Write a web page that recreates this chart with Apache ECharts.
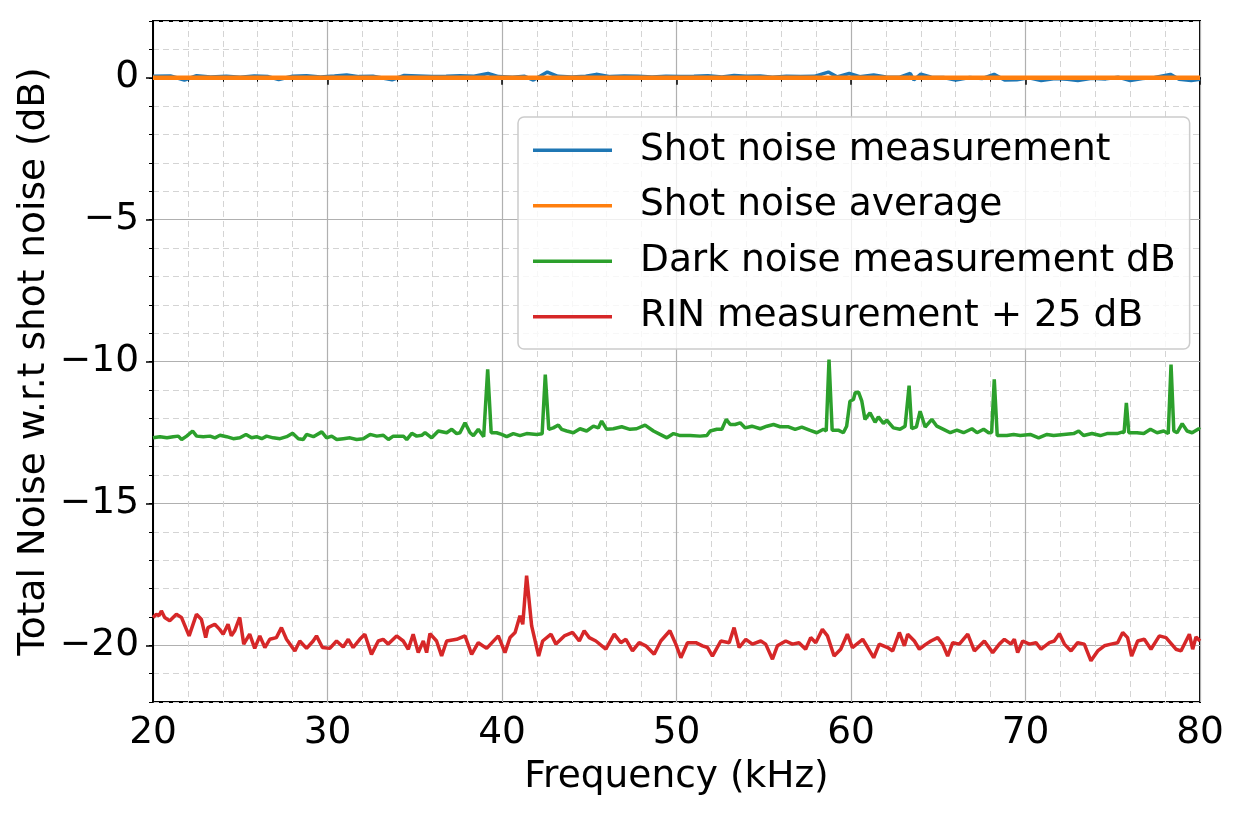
<!DOCTYPE html>
<html>
<head>
<meta charset="utf-8">
<title>Total noise vs frequency</title>
<script src="https://cdn.jsdelivr.net/npm/echarts@6/dist/echarts.min.js"></script>
<style>
  html, body { margin: 0; padding: 0; background: #fff; }
  #chart { width: 1239px; height: 813px; }
</style>
</head>
<body>
<div id="chart"></div>
<script>
// x ticks (kHz) and y ticks (dB)
const xTicks = [20, 30, 40, 50, 60, 70, 80];
const yTicks = [-20, -15, -10, -5, 0];

// Shot noise measurement
const shotFreq = [20, 21, 21.8, 22.5, 23.3, 24.2, 25, 25.8, 26.6, 27.2, 28, 28.8, 29.6, 30.4, 31.1, 31.8, 32.6, 33.7, 34.4, 35.2,
  36, 36.8, 37.6, 38.4, 39.2, 39.8, 40.6, 41.3, 41.8, 42.6, 43.2, 44, 44.8, 45.4, 46.2, 47, 47.8, 48.6, 49.4, 50.2,
  51, 51.8, 52.6, 53.3, 54, 54.8, 55.5, 56.3, 57.1, 57.9, 58.7, 59.2, 59.9, 60.5, 61.3, 62, 62.8, 63.4, 63.6, 64,
  64.6, 65.3, 66, 66.8, 67.5, 68.2, 68.8, 69.5, 70.2, 70.9, 71.7, 72.4, 73, 73.8, 74.6, 75.3, 76, 76.7, 77.4, 78.3,
  78.8, 79.5, 80];
const shotDb = [0.05, 0.06, -0.08, 0.07, 0.03, 0.05, 0.02, 0.06, 0.04, -0.06, 0.05, 0.07, 0.03, 0.06, 0.1, 0.04, 0.05, -0.07, 0.08, 0.06,
  0.04, 0.05, 0.07, 0.05, 0.15, 0.04, 0.02, 0.05, -0.08, 0.2, 0.05, 0.03, 0.05, 0.12, 0.04, 0.06, 0.05, 0.03, 0.05, 0.04,
  0.05, 0.07, 0.03, 0.08, 0.05, 0.06, 0.02, 0.05, 0.04, 0.05, 0.2, 0.03, 0.15, 0.04, 0.1, 0.03, 0.02, 0.15, -0.08, 0.13,
  0.02, 0.01, -0.08, 0.01, -0.03, 0.12, -0.08, -0.07, 0, -0.1, -0.03, -0.05, -0.1, -0.02, -0.04, 0.02, -0.1, -0.03, 0.01, 0.12,
  -0.05, -0.1, -0.05];

// Shot noise average
const avgFreq = [20, 80];
const avgDb = [0, 0];

// Dark noise measurement
const darkFreq = [20, 20.4, 20.8, 21.16, 21.45, 21.64, 21.93, 22.27, 22.5, 22.88, 23.27, 23.55, 23.84, 24.22, 24.6, 24.98,
  25.33, 25.65, 25.94, 26.23, 26.51, 26.89, 27.28, 27.66, 28, 28.33, 28.61, 28.8, 29.19, 29.67, 29.95, 30.24, 30.53,
  30.91, 31.29, 31.67, 32.05, 32.44, 32.82, 33.2, 33.49, 33.77, 34.35, 34.54, 34.83, 35.11, 35.4, 35.59, 35.97, 36.35,
  36.83, 37.12, 37.4, 37.59, 37.88, 38.17, 38.36, 38.64, 38.95, 39.18, 39.38, 39.69, 39.98, 40.27, 40.65, 41.03, 41.41,
  41.99, 42.3, 42.48, 42.68, 42.94, 43.23, 43.42, 43.71, 44.09, 44.47, 44.85, 45.24, 45.52, 45.71, 46, 46.38, 46.86,
  47.33, 47.71, 48.2, 48.68, 49.06, 49.45, 49.83, 50.21, 50.78, 51.35, 51.74, 51.93, 52.31, 52.6, 52.85, 53.08, 53.36,
  53.65, 53.94, 54.32, 54.8, 55.18, 55.56, 55.94, 56.42, 56.8, 57.18, 57.66, 58.04, 58.42, 58.58, 58.74, 58.92, 59.27,
  59.56, 59.75, 59.94, 60.14, 60.24, 60.43, 60.62, 60.8, 61.09, 61.38, 61.57, 61.86, 62.05, 62.43, 62.81, 63.1, 63.2,
  63.33, 63.48, 63.75, 63.96, 64.25, 64.63, 64.92, 65.3, 65.69, 66.07, 66.45, 66.93, 67.22, 67.6, 67.89, 68.06, 68.21,
  68.38, 68.93, 69.32, 69.7, 70.27, 70.75, 71.23, 71.61, 72.19, 72.76, 73.05, 73.33, 73.81, 74.29, 74.67, 75.25, 75.53,
  75.65, 75.78, 75.92, 76.39, 76.78, 77.16, 77.54, 77.92, 78.18, 78.34, 78.5, 78.69, 78.98, 79.26, 79.55, 79.93, 80];
const darkDb = [-12.69, -12.65, -12.69, -12.65, -12.63, -12.75, -12.63, -12.45, -12.63, -12.65, -12.63, -12.69, -12.6, -12.65, -12.72, -12.69,
  -12.57, -12.69, -12.65, -12.72, -12.63, -12.69, -12.72, -12.65, -12.53, -12.72, -12.75, -12.57, -12.65, -12.48, -12.69, -12.63, -12.75,
  -12.72, -12.69, -12.75, -12.72, -12.57, -12.63, -12.6, -12.75, -12.63, -12.63, -12.75, -12.53, -12.63, -12.6, -12.51, -12.69, -12.45,
  -12.51, -12.39, -12.54, -12.51, -12.16, -12.51, -12.61, -12.39, -12.65, -10.28, -12.51, -12.51, -12.57, -12.65, -12.54, -12.61, -12.54,
  -12.57, -12.55, -10.46, -12.39, -12.34, -12.24, -12.39, -12.45, -12.51, -12.37, -12.45, -12.28, -12.34, -12.1, -12.39, -12.37, -12.3,
  -12.39, -12.37, -12.24, -12.45, -12.57, -12.69, -12.54, -12.61, -12.61, -12.63, -12.61, -12.45, -12.39, -12.39, -12.04, -12.22, -12.22,
  -12.16, -12.34, -12.28, -12.37, -12.28, -12.22, -12.3, -12.3, -12.39, -12.31, -12.43, -12.51, -12.39, -12.45, -9.93, -12.42, -12.42,
  -12.51, -12.28, -11.4, -11.34, -11.1, -11.08, -11.4, -12.04, -11.81, -12.14, -11.95, -12.18, -12.07, -12.34, -12.39, -12.28, -12.35,
  -10.85, -12.37, -12.3, -11.75, -12.31, -12.04, -12.28, -12.39, -12.51, -12.42, -12.51, -12.37, -12.51, -12.39, -12.51, -12.5, -10.63,
  -12.61, -12.61, -12.57, -12.61, -12.57, -12.69, -12.57, -12.61, -12.57, -12.54, -12.45, -12.61, -12.54, -12.61, -12.54, -12.54, -12.49,
  -12.5, -11.46, -12.51, -12.51, -12.54, -12.39, -12.51, -12.45, -12.54, -10.11, -12.45, -12.51, -12.19, -12.45, -12.51, -12.37, -12.4];

// RIN measurement + 25 dB
const rinFreq = [20, 20.19, 20.34, 20.48, 20.67, 20.96, 21.34, 21.63, 22.07, 22.49, 22.77, 23.02, 23.15, 23.54, 23.82, 24.02,
  24.3, 24.49, 24.68, 24.97, 25.2, 25.54, 25.83, 26.12, 26.41, 26.69, 27.07, 27.36, 27.65, 28.13, 28.41, 28.8, 29.18,
  29.37, 29.71, 30.13, 30.52, 30.9, 31.19, 31.47, 31.85, 32.14, 32.52, 32.91, 33.19, 33.48, 33.96, 34.34, 34.63, 34.91,
  35.2, 35.49, 35.68, 35.87, 36.25, 36.54, 36.83, 37.4, 37.88, 38.26, 38.64, 39.12, 39.79, 40.17, 40.46, 40.75, 41.03,
  41.19, 41.41, 41.7, 42.1, 42.33, 42.81, 43.09, 43.57, 44.05, 44.43, 44.71, 45, 45.38, 45.95, 46.43, 46.81, 47.1,
  47.48, 47.86, 48.24, 48.72, 49.1, 49.62, 49.96, 50.25, 50.63, 51.11, 51.49, 51.78, 52.06, 52.54, 53.02, 53.3, 53.59,
  53.97, 54.35, 54.83, 55.11, 55.5, 55.78, 56.26, 56.64, 57.02, 57.4, 57.69, 57.98, 58.36, 58.65, 59.03, 59.41, 59.79,
  60.08, 60.67, 60.96, 61.3, 61.62, 62.1, 62.39, 62.77, 63.06, 63.25, 63.63, 63.92, 64.3, 64.58, 64.97, 65.25, 65.54,
  65.83, 66.21, 66.69, 67.07, 67.64, 68.12, 68.5, 68.79, 69.17, 69.36, 69.55, 69.84, 70.22, 70.6, 70.89, 71.37, 71.65,
  71.94, 72.23, 72.61, 72.99, 73.37, 73.75, 74.14, 74.52, 74.9, 75.28, 75.57, 75.85, 76.08, 76.43, 76.81, 77.19, 77.67,
  78.05, 78.62, 78.91, 79.39, 79.58, 79.77, 80];
const rinDb = [-19.02, -18.91, -18.96, -18.79, -19.02, -19.14, -18.91, -19.02, -19.67, -18.91, -19.08, -19.73, -19.38, -19.26, -19.44, -19.61,
  -19.26, -19.67, -19.49, -19.02, -19.96, -19.61, -20.11, -19.67, -20.08, -19.79, -19.73, -19.38, -19.79, -20.2, -19.85, -20.11, -19.85,
  -19.67, -20.08, -20.11, -19.85, -20.06, -19.79, -20.08, -19.79, -19.61, -20.32, -19.85, -19.79, -19.96, -19.67, -19.85, -20.14, -19.61,
  -20.26, -19.85, -20.26, -19.59, -19.85, -20.38, -19.85, -19.79, -19.67, -20.32, -19.91, -20.11, -19.67, -20.26, -19.73, -19.55, -18.96,
  -19.26, -17.55, -19.32, -20.38, -19.85, -19.61, -19.96, -19.67, -19.55, -19.85, -19.49, -19.73, -19.85, -20.14, -19.61, -19.91, -19.79,
  -20.2, -19.91, -20.02, -20.32, -19.85, -19.49, -19.96, -20.44, -19.91, -19.91, -20.02, -20.08, -20.38, -19.85, -19.91, -19.38, -20.08,
  -19.79, -19.96, -19.85, -19.96, -20.49, -20.02, -19.85, -19.96, -19.91, -20.14, -19.73, -19.91, -19.44, -19.67, -20.38, -20.14, -19.61,
  -20.08, -19.79, -20.08, -20.44, -19.96, -20.08, -20.2, -19.55, -20.02, -19.61, -19.85, -20.14, -19.96, -19.85, -19.73, -19.96, -20.38,
  -19.91, -19.96, -19.61, -20.2, -19.85, -20.26, -19.96, -19.79, -19.96, -19.79, -20.26, -19.85, -19.96, -19.91, -20.14, -19.91, -19.85,
  -19.59, -19.96, -20.2, -19.91, -19.96, -20.55, -20.2, -20.02, -19.96, -19.91, -19.55, -19.73, -20.38, -19.85, -19.79, -20.14, -19.67,
  -19.73, -20.14, -20.2, -19.61, -20.14, -19.71, -19.85];

const FONT = 'DejaVu Sans';
const FS = 37.5;
const minus = (v) => String(v).replace('-', '\u2212');
const pairs = (xs, ys) => xs.map((x, i) => [x, ys[i]]);

const chart = echarts.init(document.getElementById('chart'));

const lineSeries = (name, xs, ys, color, width) => ({
  name,
  type: 'line',
  data: pairs(xs, ys),
  showSymbol: false,
  symbol: 'none',
  yAxisIndex: 0,
  lineStyle: { color, width },
  itemStyle: { color },
  emphasis: { disabled: true },
  animation: false,
});

chart.setOption({
  backgroundColor: '#fff',
  animation: false,
  grid: {
    left: 153,
    right: 39,
    top: 21,
    bottom: 111,
    show: true,
    borderColor: '#000',
    borderWidth: 2,
  },
  legend: {
    orient: 'vertical',
    left: 518,
    top: 117,
    padding: [13, 14, 12, 15],
    itemGap: 15,
    itemWidth: 79,
    itemHeight: 3.5,
    icon: 'rect',
    backgroundColor: 'rgba(255,255,255,0.8)',
    borderColor: '#cccccc',
    borderWidth: 1.5,
    borderRadius: 6,
    textStyle: {
      fontFamily: FONT,
      fontSize: FS,
      color: '#000',
      lineHeight: 40.5,
      padding: [0, 0, 0, 23],
    },
    data: ['Shot noise measurement', 'Shot noise average', 'Dark noise measurement dB', 'RIN measurement + 25 dB'],
  },
  xAxis: {
    type: 'value',
    min: xTicks[0],
    max: xTicks[xTicks.length - 1],
    interval: 10,
    name: 'Frequency (kHz)',
    nameLocation: 'middle',
    nameGap: 56,
    nameTextStyle: { fontFamily: FONT, fontSize: FS, color: '#000' },
    axisLine: { show: true, lineStyle: { color: '#000', width: 2 } },
    axisTick: { show: true, length: 7, lineStyle: { color: '#000', width: 1.5 } },
    minorTick: { show: true, splitNumber: 5, length: 4, lineStyle: { color: '#000', width: 1 } },
    axisLabel: { fontFamily: FONT, fontSize: FS, color: '#000', margin: 12, formatter: minus },
    splitLine: { show: true, lineStyle: { color: '#b0b0b0', width: 1.2 } },
    minorSplitLine: { show: true, lineStyle: { color: '#d4d4d4', width: 1, type: [6, 4] } },
  },
  yAxis: [
    {
      // minor ticks and dashed minor grid every 1 dB
      type: 'value',
      min: -22,
      max: 2,
      interval: 1,
      position: 'left',
      axisLine: { show: true, lineStyle: { color: '#000', width: 2 } },
      axisTick: { show: true, length: 4, lineStyle: { color: '#000', width: 1 } },
      axisLabel: { show: false },
      splitLine: { show: true, lineStyle: { color: '#d4d4d4', width: 1, type: [6, 4] } },
    },
    {
      // major ticks, labels and solid grid
      type: 'value',
      min: -22,
      max: 2,
      position: 'left',
      name: 'Total Noise w.r.t shot noise (dB)',
      nameLocation: 'middle',
      nameRotate: 90,
      nameGap: 100,
      nameMoveOverlap: false,
      nameTextStyle: { fontFamily: FONT, fontSize: FS, color: '#000' },
      axisLine: { show: false },
      axisTick: { show: true, length: 7, customValues: yTicks, lineStyle: { color: '#000', width: 1.5 } },
      axisLabel: {
        fontFamily: FONT, fontSize: FS, color: '#000', margin: 14,
        customValues: yTicks, formatter: minus,
      },
      splitLine: { show: true, lineStyle: { color: '#b0b0b0', width: 1.2 } },
    },
  ],
  series: [
    lineSeries('Shot noise measurement', shotFreq, shotDb, '#1f77b4', 3.5),
    lineSeries('Shot noise average', avgFreq, avgDb, '#ff7f0e', 4.5),
    lineSeries('Dark noise measurement dB', darkFreq, darkDb, '#2ca02c', 3.5),
    lineSeries('RIN measurement + 25 dB', rinFreq, rinDb, '#d62728', 3.5),
  ],
});
</script>
</body>
</html>
